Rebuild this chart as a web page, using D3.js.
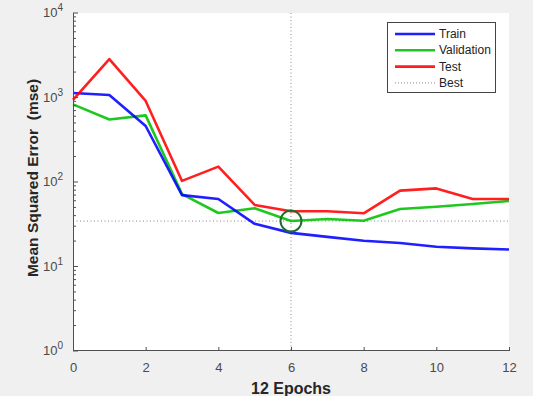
<!DOCTYPE html>
<html><head><meta charset="utf-8">
<script src="https://cdn.jsdelivr.net/npm/d3@7/dist/d3.min.js"></script>
<style>
html,body{margin:0;padding:0;background:#f0f0f0;}
svg{display:block;font-family:"Liberation Sans",Arial,sans-serif;}
</style></head><body>
<svg id="c" width="533" height="396"></svg>
<script>
const epochs = [0,1,2,3,4,5,6,7,8,9,10,11,12];
const train = [1130,1070,460,70,63,32,25,22.4,20.2,19,17.1,16.4,15.9];
const validation = [830,550,615,72,43,49,34.5,36.5,34.8,48,51,55,59.6];
const test = [935,2850,910,103,152,53.5,45,45,42.6,79,84,63,63];
const bestEpoch = 6;
const bestValue = 34.5;
const xTicks = [0,2,4,6,8,10,12];
const yTicks = [1,10,100,1000,10000];
const seriesNames = ["Train","Validation","Test","Best"];

const svg = d3.select("#c");
const L=73, R=509, T=13, B=351;
const x = d3.scaleLinear().domain([0,12]).range([L,R]);
const y = d3.scaleLog().domain([1,10000]).range([B,T]);

svg.append("rect").attr("x",L).attr("y",T).attr("width",R-L).attr("height",B-T).attr("fill","#fff");

const axisCol="#505050";
// best lines
svg.append("line").attr("x1",x(bestEpoch)).attr("x2",x(bestEpoch)).attr("y1",T).attr("y2",B)
  .attr("stroke","#888").attr("stroke-dasharray","1,2.5").attr("stroke-width",1);
svg.append("line").attr("x1",L).attr("x2",R).attr("y1",y(bestValue)).attr("y2",y(bestValue))
  .attr("stroke","#888").attr("stroke-dasharray","1,2.5").attr("stroke-width",1);

const line = d3.line().x((d,i)=>x(epochs[i])).y(d=>y(d));
const cols = {Train:"#0000ff",Validation:"#00c000",Test:"#ff0000"};
[["Validation",validation],["Train",train],["Test",test]].forEach(([n,arr])=>{
  svg.append("path").attr("d",line(arr)).attr("fill","none").attr("stroke",cols[n])
    .attr("stroke-width",2.6).attr("stroke-linejoin","round").attr("opacity",0.88);
});
svg.append("circle").attr("cx",x(bestEpoch)).attr("cy",y(bestValue)).attr("r",10.5)
  .attr("fill","none").attr("stroke","#1e6e2a").attr("stroke-width",2);

// axes
const xAxis = d3.axisBottom(x).tickValues(xTicks).tickSize(-4).tickPadding(12).tickFormat(d3.format("d"));
const gx = svg.append("g").attr("transform",`translate(0,${B})`).call(xAxis);
gx.select(".domain").attr("stroke",axisCol).attr("d",`M${L},-0.5H${R}`);
gx.selectAll(".tick line").attr("stroke",axisCol);
gx.selectAll("text").attr("fill","#4a4a4a").attr("font-size",13);

const gy = svg.append("g").attr("transform",`translate(${L},0)`);
gy.append("line").attr("x1",0.5).attr("x2",0.5).attr("y1",T).attr("y2",B).attr("stroke",axisCol);
const minor=[];
for(let e=0;e<4;e++) for(let m=2;m<=9;m++) minor.push(m*Math.pow(10,e));
gy.selectAll(".mn").data(minor).enter().append("line").attr("x1",0).attr("x2",3)
  .attr("y1",d=>y(d)).attr("y2",d=>y(d)).attr("stroke",axisCol);
gy.selectAll(".mj").data(yTicks).enter().append("line").attr("x1",0).attr("x2",5)
  .attr("y1",d=>y(d)).attr("y2",d=>y(d)).attr("stroke",axisCol);
yTicks.forEach(v=>{
  const t = gy.append("text").attr("x",-10).attr("y",y(v)+4).attr("text-anchor","end")
    .attr("fill","#4a4a4a").attr("font-size",13);
  t.append("tspan").text("10");
  t.append("tspan").attr("dy",-6).attr("font-size",10).text(String(Math.round(Math.log10(v))));
});

svg.append("text").attr("x",x(6)).attr("y",393.5).attr("text-anchor","middle")
  .attr("font-weight","bold").attr("font-size",16).attr("fill","#262626").text("12 Epochs");
svg.append("text").attr("transform",`translate(38,${(T+B)/2-4}) rotate(-90)`).attr("text-anchor","middle")
  .style("white-space","pre")
  .attr("font-weight","bold").attr("font-size",15.5).attr("fill","#262626").text("Mean Squared Error  (mse)");

// legend
const lg = svg.append("g");
lg.append("rect").attr("x",387.5).attr("y",22.5).attr("width",108).attr("height",70)
  .attr("fill","#fff").attr("stroke","#444").attr("stroke-width",1);
seriesNames.forEach((n,i)=>{
  const yy = 34 + i*16.3;
  const ln = lg.append("line").attr("x1",395).attr("x2",435).attr("y1",yy).attr("y2",yy);
  if(n==="Best") ln.attr("stroke","#888").attr("stroke-dasharray","1,2").attr("stroke-width",1);
  else ln.attr("stroke",cols[n]).attr("stroke-width",2.6).attr("opacity",0.88);
  lg.append("text").attr("x",439).attr("y",yy+4).attr("font-size",12).attr("fill","#222").text(n);
});
</script></body></html>
